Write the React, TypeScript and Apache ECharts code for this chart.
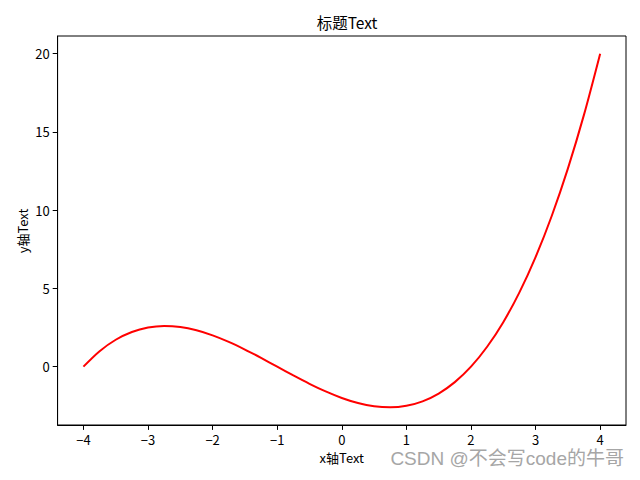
import React, { useEffect, useRef } from "react";
import * as echarts from "echarts";

const xValues = [
  -4, -3.75, -3.5, -3.25, -3, -2.75, -2.5, -2.25, -2, -1.75, -1.5, -1.25, -1,
  -0.75, -0.5, -0.25, 0, 0.25, 0.5, 0.75, 1, 1.25, 1.5, 1.75, 2, 2.25, 2.5,
  2.75, 3, 3.25, 3.5, 3.75, 4,
];
const yValues = [
  0, 0.988, 1.719, 2.215, 2.5, 2.598, 2.531, 2.324, 2, 1.582, 1.094, 0.559, 0,
  -0.559, -1.094, -1.582, -2, -2.324, -2.531, -2.598, -2.5, -2.215, -1.719,
  -0.988, 0, 1.27, 2.844, 4.746, 7, 9.629, 12.656, 16.105, 20,
];
const xTicks = [-4, -3, -2, -1, 0, 1, 2, 3, 4];
const yTicks = [0, 5, 10, 15, 20];
const titleText = "标题Text";
const xLabel = "x轴Text";
const yLabel = "y轴Text";
const watermark = "CSDN @不会写code的牛哥";

const FONT = "'Noto Sans CJK SC', sans-serif";
const fmt = (v: number) => (v < 0 ? "\u2212" + Math.abs(v) : String(v));

export default function App() {
  const ref = useRef<HTMLDivElement>(null);
  useEffect(() => {
    if (!ref.current) return;
    const chart = echarts.init(ref.current, null, { renderer: "svg" });
    const data = xValues.map((x, i) => [x, yValues[i]]);
    chart.setOption({
      animation: false,
      backgroundColor: "#ffffff",
      title: {
        text: titleText,
        left: 342,
        top: 9,
        textAlign: "center",
        textStyle: { fontFamily: FONT, fontSize: 15.5, fontWeight: "normal", color: "#000" },
      },
      grid: {
        left: 57.6,
        right: 14,
        top: 36,
        bottom: 55,
        show: true,
        borderColor: "#000",
        borderWidth: 1,
        backgroundColor: "transparent",
      },
      xAxis: {
        type: "value",
        min: -4.4,
        max: 4.4,
        name: xLabel,
        nameLocation: "middle",
        nameGap: 26,
        nameTextStyle: { fontFamily: FONT, fontSize: 13, color: "#000" },
        axisLine: { show: true, onZero: false, lineStyle: { color: "#000", width: 1 } },
        axisTick: { show: true, inside: false, length: 4.9, lineStyle: { color: "#000" }, customValues: xTicks },
        axisLabel: {
          customValues: xTicks,
          formatter: fmt,
          fontFamily: FONT,
          fontSize: 13,
          color: "#000",
          margin: 8,
        },
        splitLine: { show: false },
      },
      yAxis: {
        type: "value",
        min: -3.728,
        max: 21.13,
        axisLine: { show: true, onZero: false, lineStyle: { color: "#000", width: 1 } },
        axisTick: { show: true, inside: false, length: 4.9, lineStyle: { color: "#000" }, customValues: yTicks },
        axisLabel: {
          customValues: yTicks,
          formatter: fmt,
          fontFamily: FONT,
          fontSize: 13,
          color: "#000",
          margin: 8,
        },
        splitLine: { show: false },
      },
      series: [
        {
          type: "line",
          data,
          showSymbol: false,
          smooth: 0.3,
          lineStyle: { color: "#ff0000", width: 2 },
          itemStyle: { color: "#ff0000" },
        },
      ],
      graphic: [
        {
          type: "text",
          x: 22,
          y: 231,
          rotation: Math.PI / 2,
          style: {
            text: yLabel,
            fontFamily: FONT,
            fontSize: 13,
            fill: "#000",
            align: "center",
            verticalAlign: "middle",
          },
        },
        {
          type: "text",
          right: 15,
          top: 448,
          style: {
            text: watermark,
            fontFamily: "'Liberation Sans', 'Noto Sans CJK SC', sans-serif",
            fontSize: 19,
            fill: "#a6a6a6",
            stroke: "#ffffff",
            lineWidth: 2,
          },
        },
      ],
    });
    return () => chart.dispose();
  }, []);
  return (
    <div
      ref={ref}
      style={{ position: "fixed", left: 0, top: 0, width: 640, height: 480 }}
    />
  );
}
